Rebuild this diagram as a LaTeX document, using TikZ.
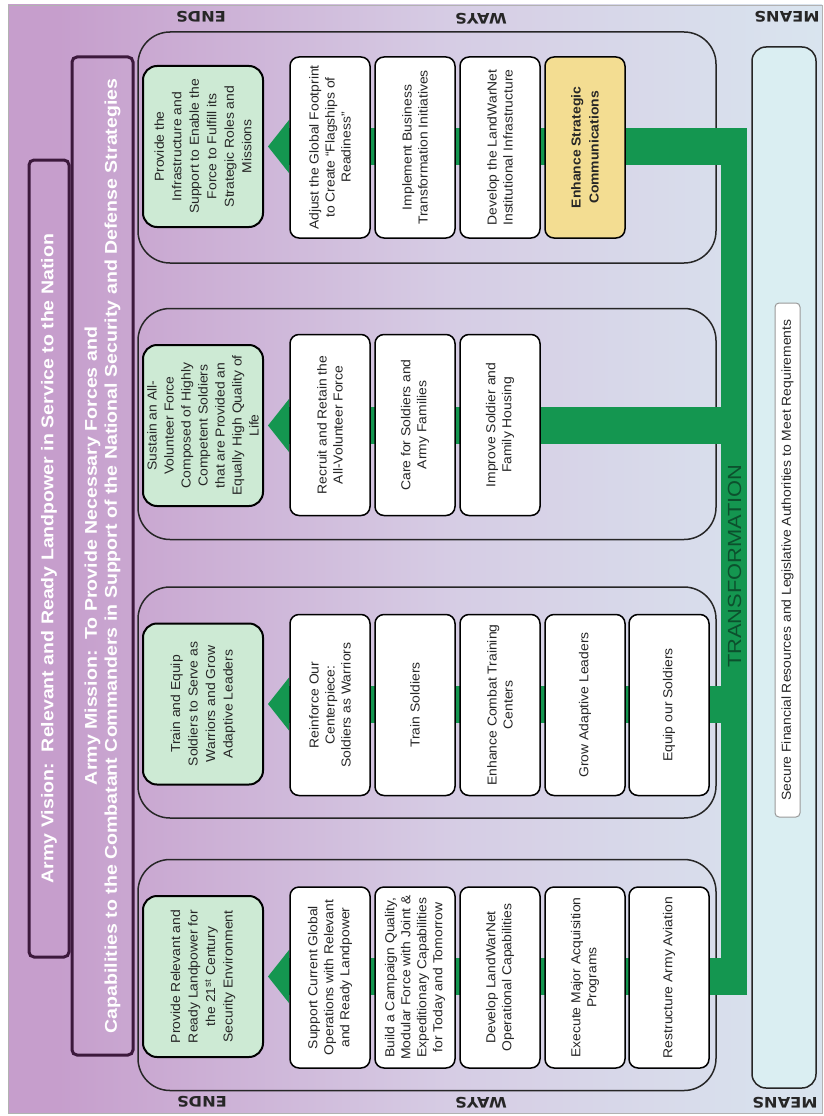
\documentclass[tikz,border=0pt]{standalone}
\usepackage{fontspec}
\setmainfont{Liberation Sans}
\newfontfamily\boxfont[FakeStretch=1.07]{Liberation Sans}
\newfontfamily\titlefont[FakeStretch=1.15]{Liberation Sans}
\newfontfamily\widefont[FakeStretch=1.12]{DejaVu Sans}
\usetikzlibrary{arrows.meta}
\pgfdeclarelayer{back}
\pgfdeclarelayer{bars}
\pgfsetlayers{back,bars,main}
\definecolor{bgpurple}{RGB}{198,158,204}
\definecolor{bglav}{RGB}{214,204,228}
\definecolor{bgblue}{RGB}{218,236,242}
\definecolor{tgreen}{RGB}{20,150,80}
\definecolor{endfill}{RGB}{205,234,212}
\definecolor{yelfill}{RGB}{243,221,146}
\definecolor{titleborder}{RGB}{60,25,60}
\definecolor{meansfill}{RGB}{218,238,242}
\definecolor{darkgreen}{RGB}{12,80,45}
\pgfdeclarehorizontalshading{bgshade}{100bp}{color(0bp)=(bgpurple); color(28bp)=(bgpurple); color(52bp)=(bglav); color(82bp)=(bgblue); color(100bp)=(bgblue)}
\begin{document}
\begin{tikzpicture}[x=1pt,y=-1pt,
  rot/.style={rotate=90, align=center},
  waybox/.style={rot, draw=black, line width=1.5pt, fill=white, rounded corners=9pt,
    minimum width=181pt, minimum height=80pt, inner sep=2pt,
    font=\boxfont\fontsize{13}{16}\selectfont, text=black!85},
  yelbox/.style={waybox, fill=yelfill, font=\boxfont\bfseries\fontsize{13}{18}\selectfont},
  endbox/.style={rot, draw=black, line width=2pt, fill=endfill, rounded corners=14pt,
    minimum width=161pt, minimum height=120pt, inner sep=2pt,
    font=\boxfont\fontsize{13}{17.5}\selectfont, text=black!85},
  groupbox/.style={rot, draw=black!85, line width=1.5pt, rounded corners=32pt,
    minimum width=231pt, minimum height=578pt},
  titlebox/.style={rot, draw=titleborder, line width=3pt, rounded corners=5pt, text=white,
    font=\titlefont\bfseries\fontsize{17}{20}\selectfont},
  lbl/.style={rotate=180, font=\widefont\bfseries\fontsize{14.5}{14.5}\selectfont, text=black!85},
  greenbar/.style={draw=tgreen, fill=tgreen, line width=37pt,
    -{Triangle[width=53pt,length=21pt,line width=0pt]}, shorten >=4pt},
  vbar/.style={draw=tgreen, line width=26pt}
]
\useasboundingbox (0,0) rectangle (824,1116);

\begin{pgfonlayer}{back}
\shade[shading=bgshade] (8,5) rectangle (822,1113);
\draw[gray!60, line width=0.6pt] (8,5) rectangle (822,1113);

% labels
\node[lbl] (ends1) at (201,17) {ENDS};
\node[lbl] (ways1) at (481,19) {WAYS};
\node[lbl] (means1) at (787,17) {MEANS};
\node[lbl] (ends2) at (202,1102) {ENDS};
\node[lbl] (ways2) at (481,1103) {WAYS};
\node[lbl] (means2) at (785,1103) {MEANS};

% vision / mission
\node[titlebox, minimum width=797pt, minimum height=40pt] (vision) at (49,558.5)
  {Army Vision:\ \ Relevant and Ready Landpower in Service to the Nation};
\node[titlebox, minimum width=998pt, minimum height=61pt] (mission) at (102.5,556)
  {Army Mission:\ \ To Provide Necessary Forces and\\Capabilities to the Combatant Commanders in Support of the National Security and Defense Strategies};

% group outlines
\node[groupbox] (g4) at (427,147.5) {};
\node[groupbox] (g3) at (427,424) {};
\node[groupbox] (g2) at (427,702.5) {};
\node[groupbox] (g1) at (427,975) {};

% means
\node[rot, draw=black!85, line width=1.5pt, fill=meansfill, rounded corners=14pt,
  minimum width=1041pt, minimum height=64pt] (means) at (784,567.5) {};
\node[rot, draw=gray!80, line width=1pt, fill=white, rounded corners=4pt,
  minimum width=514pt, minimum height=25pt, inner sep=1pt,
  font=\boxfont\fontsize{13}{15}\selectfont, text=black!85] (secure) at (787.5,560)
  {Secure Financial Resources and Legislative Authorities to Meet Requirements};
\end{pgfonlayer}

% ---- group 1
\node[endbox] (e1) at (203,976.5) {Provide Relevant and\\Ready Landpower for\\the 21\textsuperscript{st} Century\\Security Environment};
\node[waybox] (w11) at (330,977.5) {Support Current Global\\Operations with Relevant\\and Ready Landpower};
\node[waybox] (w12) at (415,977.5) {Build a Campaign Quality,\\Modular Force with Joint \&\\Expeditionary Capabilities\\for Today and Tomorrow};
\node[waybox] (w13) at (500,977.5) {Develop LandWarNet\\Operational Capabilities};
\node[waybox] (w14) at (585,977.5) {Execute Major Acquisition\\Programs};
\node[waybox] (w15) at (669,977.5) {Restructure Army Aviation};

% ---- group 2
\node[endbox] (e2) at (203,704) {Train and Equip\\Soldiers to Serve as\\Warriors and Grow\\Adaptive Leaders};
\node[waybox] (w21) at (330,705) {Reinforce Our\\Centerpiece:\\Soldiers as Warriors};
\node[waybox] (w22) at (415,705) {Train Soldiers};
\node[waybox] (w23) at (500,705) {Enhance Combat Training\\Centers};
\node[waybox] (w24) at (585,705) {Grow Adaptive Leaders};
\node[waybox] (w25) at (669,705) {Equip our Soldiers};

% ---- group 3
\node[endbox, font=\boxfont\fontsize{13}{17}\selectfont] (e3) at (203,425.5) {Sustain an All-\\Volunteer Force\\Composed of Highly\\Competent Soldiers\\that are Provided an\\Equally High Quality of\\Life};
\node[waybox] (w31) at (330,425) {Recruit and Retain the\\All-Volunteer Force};
\node[waybox] (w32) at (415,425) {Care for Soldiers and\\Army Families};
\node[waybox] (w33) at (500,425) {Improve Soldier and\\Family Housing};

% ---- group 4
\node[endbox] (e4) at (203,146.5) {Provide the\\Infrastructure and\\Support to Enable the\\Force to Fulfill its\\Strategic Roles and\\Missions};
\node[waybox] (w41) at (330,147.5) {Adjust the Global Footprint\\to Create “Flagships of\\Readiness”};
\node[waybox] (w42) at (415,147.5) {Implement Business\\Transformation Initiatives};
\node[waybox] (w43) at (500,147.5) {Develop the LandWarNet\\Institutional Infrastructure};
\node[yelbox] (w44) at (585,147.5) {Enhance Strategic\\Communications};

% ---- green transformation bars
\coordinate (vt) at (734,128);
\coordinate (vb) at (734,995);
\coordinate (h4) at (747,146.5);
\coordinate (h3) at (747,425.5);
\coordinate (h2) at (747,704);
\coordinate (h1) at (747,976.5);
\begin{pgfonlayer}{bars}
\draw[vbar] (vt) -- (vb);
\draw[greenbar] (h4) -- (h4 -| e4.south);
\draw[greenbar] (h3) -- (h3 -| e3.south);
\draw[greenbar] (h2) -- (h2 -| e2.south);
\draw[greenbar] (h1) -- (h1 -| e1.south);
\node[rotate=90, font=\titlefont\fontsize{19}{19}\selectfont, text=darkgreen] (transf) at (734.5,566) {TRANSFORMATION};
\end{pgfonlayer}
\end{tikzpicture}
\end{document}
